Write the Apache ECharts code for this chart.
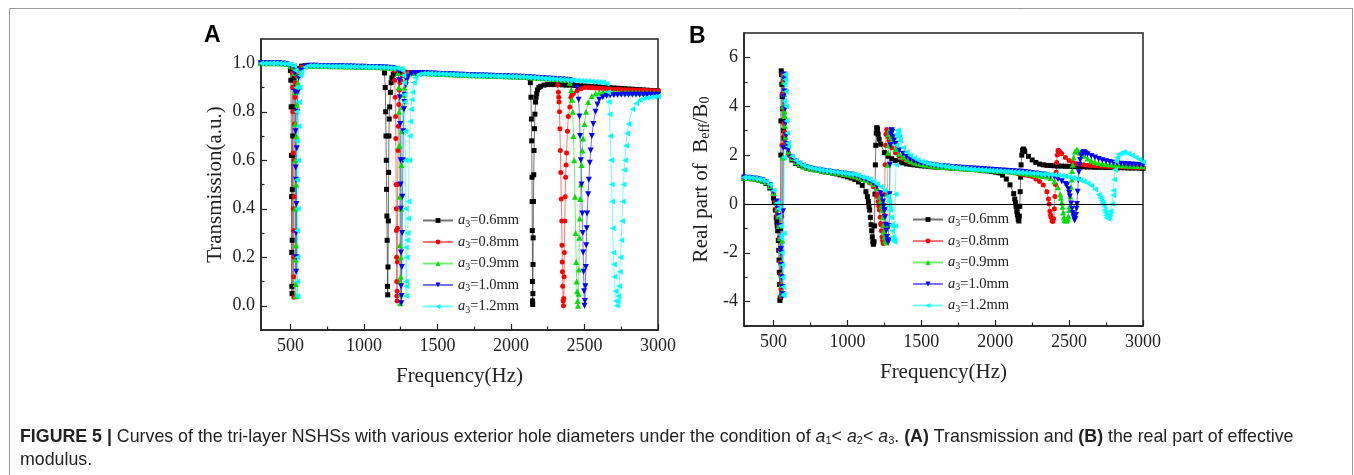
<!DOCTYPE html>
<html>
<head>
<meta charset="utf-8">
<script src="https://cdn.jsdelivr.net/npm/echarts@6/dist/echarts.min.js"></script>
<style>
html,body{margin:0;padding:0;background:#fff;}
#chart{width:1354px;height:475px;}
</style>
</head>
<body>
<div id="chart"></div>
<script>
// ---------- shared frequency grid (Hz) ----------
const freqGrid = [
300,325,350,375, 400,425,450,475, 500,525,550,575, 600,625,650,675, 700,725,750,775,
800,825,850,875, 900,925,950,975, 1000,1025,1050,1075, 1100,1125,1150,1175, 1200,1225,1250,1275,
1300,1325,1350,1375, 1400,1425,1450,1475, 1500,1525,1550,1575, 1600,1625,1650,1675, 1700,1725,1750,1775,
1800,1825,1850,1875, 1900,1925,1950,1975, 2000,2025,2050,2075, 2100,2125,2150,2175, 2200,2225,2250,2275,
2300,2325,2350,2375, 2400,2425,2450,2475, 2500,2525,2550,2575, 2600,2625,2650,2675, 2700,2725,2750,2775,
2800,2825,2850,2875, 2900,2925,2950,2975, 3000];

const seriesNames = ['a3=0.6mm','a3=0.8mm','a3=0.9mm','a3=1.0mm','a3=1.2mm'];
const xTicks = [500,1000,1500,2000,2500,3000];
const xMinorTicks = [750,1250,1750,2250,2750];
const yTicksA = [0,0.2,0.4,0.6,0.8,1.0];
const yMinorA = [0.1,0.3,0.5,0.7,0.9];
const yTicksB = [-4,-2,0,2,4,6];
const yMinorB = [-5,-3,-1,1,3,5];

// ---------- Panel A: transmission ----------
const tBlack = [
1.0,1.0,1.0,1.0, 1.0,1.0,0.999,0.997, 0.97,0.94,0.978,0.988, 0.99,0.99,0.99,0.99, 0.989,0.989,0.989,0.988,
0.988,0.988,0.988,0.987, 0.987,0.987,0.986,0.986, 0.986,0.985,0.985,0.985, 0.984,0.982,0.7,0.82, 0.955,0.962,0.963,0.963,
0.962,0.962,0.961,0.96, 0.96,0.959,0.958,0.958, 0.957,0.956,0.956,0.955, 0.955,0.954,0.953,0.953, 0.952,0.951,0.951,0.95,
0.95,0.949,0.948,0.948, 0.947,0.947,0.946,0.946, 0.945,0.945,0.944,0.944, 0.943,0.94,0.17,0.875, 0.905,0.91,0.912,0.912,
0.912,0.912,0.911,0.91, 0.91,0.909,0.908,0.907, 0.906,0.905,0.904,0.903, 0.902,0.901,0.9,0.899, 0.898,0.897,0.896,0.895,
0.894,0.893,0.892,0.891, 0.89,0.889,0.888,0.887, 0.886];
const tRed = [
1.0,1.0,1.0,1.0, 1.0,1.0,0.999,0.997, 0.985,0.45,0.97,0.985, 0.99,0.99,0.99,0.99, 0.989,0.989,0.989,0.988,
0.988,0.988,0.988,0.987, 0.987,0.987,0.986,0.986, 0.986,0.985,0.985,0.985, 0.984,0.983,0.982,0.981, 0.978,0.02,0.93,0.96,
0.962,0.962,0.961,0.96, 0.96,0.959,0.958,0.958, 0.957,0.956,0.956,0.955, 0.955,0.954,0.953,0.953, 0.952,0.951,0.951,0.95,
0.95,0.949,0.948,0.948, 0.947,0.947,0.946,0.946, 0.945,0.945,0.944,0.944, 0.943,0.942,0.941,0.94, 0.939,0.938,0.937,0.936,
0.935,0.86,0.14,0.58, 0.82,0.875,0.888,0.895, 0.9,0.9,0.899,0.898, 0.897,0.896,0.895,0.894, 0.893,0.893,0.892,0.891,
0.891,0.89,0.89,0.889, 0.889,0.888,0.888,0.887, 0.887];
const tGreen = [
1.0,1.0,1.0,1.0, 1.0,1.0,0.999,0.997, 0.99,0.985,0.92,0.975, 0.988,0.99,0.99,0.99, 0.989,0.989,0.989,0.988,
0.988,0.988,0.988,0.987, 0.987,0.987,0.986,0.986, 0.986,0.985,0.985,0.985, 0.984,0.983,0.982,0.981, 0.98,0.978,0.12,0.9,
0.955,0.961,0.961,0.96, 0.96,0.959,0.958,0.958, 0.957,0.956,0.956,0.955, 0.955,0.954,0.953,0.953, 0.952,0.951,0.951,0.95,
0.95,0.949,0.948,0.948, 0.947,0.947,0.946,0.946, 0.945,0.945,0.944,0.944, 0.943,0.942,0.941,0.94, 0.939,0.938,0.937,0.936,
0.935,0.934,0.933,0.932, 0.92,0.7,0.06,0.5, 0.75,0.84,0.865,0.875, 0.878,0.88,0.88,0.88, 0.88,0.88,0.879,0.879,
0.879,0.879,0.878,0.878, 0.878,0.878,0.877,0.877, 0.877];
const tBlue = [
1.0,1.0,1.0,1.0, 1.0,1.0,0.999,0.997, 0.99,0.985,0.88,0.97, 0.986,0.99,0.99,0.99, 0.989,0.989,0.989,0.988,
0.988,0.988,0.988,0.987, 0.987,0.987,0.986,0.986, 0.986,0.985,0.985,0.985, 0.984,0.983,0.982,0.981, 0.98,0.975,0.5,0.84,
0.945,0.957,0.96,0.96, 0.96,0.959,0.958,0.958, 0.957,0.956,0.956,0.955, 0.955,0.954,0.953,0.953, 0.952,0.951,0.951,0.95,
0.95,0.949,0.948,0.948, 0.947,0.947,0.946,0.946, 0.945,0.945,0.944,0.944, 0.943,0.942,0.941,0.94, 0.939,0.938,0.937,0.936,
0.935,0.934,0.933,0.932, 0.931,0.925,0.9,0.6, 0.0,0.46,0.7,0.8, 0.85,0.86,0.865,0.867, 0.868,0.869,0.87,0.87,
0.87,0.87,0.87,0.87, 0.87,0.87,0.87,0.87, 0.87];
const tCyan = [
1.0,1.0,1.0,1.0, 1.0,1.0,0.999,0.998, 0.995,0.99,0.4,0.965, 0.985,0.99,0.99,0.99, 0.989,0.989,0.989,0.988,
0.988,0.988,0.988,0.987, 0.987,0.987,0.986,0.986, 0.986,0.985,0.985,0.985, 0.984,0.983,0.982,0.981, 0.98,0.98,0.978,0.87,
0.36,0.85,0.94,0.955, 0.958,0.958,0.958,0.957, 0.957,0.956,0.956,0.955, 0.955,0.954,0.953,0.953, 0.952,0.951,0.951,0.95,
0.95,0.949,0.948,0.948, 0.947,0.947,0.946,0.946, 0.945,0.945,0.944,0.944, 0.943,0.942,0.941,0.94, 0.939,0.938,0.937,0.936,
0.935,0.934,0.933,0.932, 0.931,0.93,0.929,0.928, 0.927,0.926,0.925,0.924, 0.923,0.921,0.915,0.7, 0.17,0.02,0.27,0.6,
0.75,0.81,0.835,0.848, 0.855,0.858,0.86,0.862, 0.864];

// finer readings inside the dips [Hz, value]
const tBlackDips = [[503,0.93],[505,0.82],[507,0.62],[508,0.45],[509,0.22],[510,0.08],[511,0.05],[512,0.27],[513,0.48],[514,0.62],[516,0.7],[518,0.82],[521,0.9],
[1140,0.96],[1145,0.9],[1148,0.8],[1150,0.7],[1152,0.6],[1154,0.48],[1156,0.37],[1158,0.27],[1160,0.08],[1162,0.045],[1164,0.16],[1166,0.35],[1168,0.55],[1170,0.7],[1172,0.77],[1175,0.82],[1180,0.88],[1185,0.92],[1190,0.94],
[2132,0.92],[2136,0.86],[2139,0.77],[2141,0.68],[2143,0.53],[2144,0.43],[2145,0.31],[2146,0.1],[2147,0.02],[2148,0.005],[2149,0.05],[2151,0.28],[2153,0.43],[2155,0.54],[2157,0.64],[2160,0.73],[2163,0.79],[2167,0.84],[2171,0.86],[2180,0.89],[2190,0.9]];
const tRedDips = [[512,0.96],[515,0.9],[517,0.8],[519,0.63],[520,0.4],[521,0.31],[522,0.12],[523,0.035],[524,0.2],[525,0.45],[526,0.6],[528,0.75],[531,0.86],[535,0.92],[540,0.95],
[1205,0.97],[1210,0.93],[1213,0.86],[1215,0.78],[1217,0.69],[1219,0.5],[1220,0.4],[1221,0.31],[1222,0.2],[1223,0.1],[1224,0.04],[1225,0.02],[1226,0.06],[1227,0.18],[1228,0.32],[1230,0.5],[1232,0.64],[1234,0.74],[1237,0.83],[1241,0.89],[1245,0.92],[1260,0.95],
[2310,0.93],[2318,0.91],[2323,0.88],[2327,0.84],[2330,0.8],[2333,0.73],[2336,0.64],[2339,0.55],[2342,0.44],[2345,0.35],[2347,0.25],[2349,0.18],[2352,0.08],[2355,0.02],[2357,0.0],[2359,0.03],[2361,0.12],[2363,0.22],[2366,0.35],[2369,0.45],[2372,0.53],[2378,0.63],[2384,0.72],[2390,0.78],[2408,0.86],[2415,0.87]];
const tGreenDips = [[527,0.96],[530,0.88],[532,0.75],[533,0.6],[534,0.4],[535,0.19],[536,0.09],[537,0.04],[538,0.25],[539,0.5],[541,0.7],[544,0.83],[548,0.9],[555,0.95],
[1232,0.96],[1236,0.9],[1239,0.8],[1241,0.66],[1243,0.45],[1245,0.25],[1246,0.1],[1247,0.01],[1249,0.05],[1251,0.2],[1253,0.4],[1255,0.58],[1258,0.72],[1262,0.82],[1267,0.87],[1283,0.93],[1290,0.95],
[2410,0.89],[2415,0.85],[2420,0.8],[2430,0.6],[2435,0.45],[2440,0.3],[2444,0.18],[2447,0.1],[2453,0.02],[2456,0.0],[2459,0.05],[2462,0.15],[2465,0.28],[2468,0.36],[2471,0.44],[2480,0.58],[2485,0.64],[2490,0.69],[2510,0.8]];
const tBlueDips = [[530,0.96],[533,0.88],[535,0.72],[536,0.57],[537,0.52],[538,0.3],[539,0.14],[540,0.2],[541,0.42],[543,0.65],[546,0.8],[550,0.88],[556,0.94],
[1235,0.97],[1240,0.93],[1244,0.86],[1247,0.75],[1249,0.6],[1251,0.4],[1252,0.22],[1253,0.08],[1254,0.01],[1256,0.04],[1258,0.16],[1260,0.3],[1262,0.45],[1265,0.6],[1268,0.72],[1272,0.81],[1278,0.87],[1285,0.91],[1292,0.93],
[2460,0.85],[2466,0.78],[2470,0.7],[2480,0.5],[2485,0.38],[2488,0.3],[2491,0.22],[2494,0.14],[2497,0.06],[2503,0.02],[2506,0.08],[2509,0.16],[2512,0.25],[2515,0.32],[2518,0.38],[2530,0.52],[2536,0.59],[2542,0.64],[2560,0.75],[2588,0.83]];
const tCyanDips = [[535,0.97],[539,0.9],[541,0.8],[543,0.68],[544,0.52],[545,0.31],[546,0.1],[547,0.04],[548,0.2],[550,0.4],[552,0.6],[555,0.74],[558,0.84],[562,0.9],[568,0.95],
[1262,0.97],[1268,0.95],[1272,0.92],[1277,0.84],[1280,0.72],[1282,0.6],[1284,0.4],[1285,0.24],[1286,0.1],[1287,0.04],[1289,0.08],[1291,0.2],[1294,0.27],[1297,0.3],[1303,0.43],[1307,0.6],[1311,0.7],[1315,0.76],[1320,0.81],[1330,0.88],[1340,0.92],
[2660,0.88],[2665,0.84],[2670,0.79],[2680,0.6],[2685,0.5],[2688,0.43],[2692,0.32],[2696,0.22],[2703,0.12],[2710,0.06],[2715,0.02],[2720,0.0],[2730,0.04],[2735,0.08],[2740,0.14],[2745,0.2],[2755,0.35],[2760,0.43],[2765,0.5],[2770,0.56],[2782,0.66],[2790,0.71]];

// ---------- Panel B: real part of Beff/B0 ----------
const bBlack = [
1.05,1.04,1.03,1.01, 0.98,0.93,0.84,0.65, 0.25,-0.9,3.4,2.35, 2.0,1.8,1.66,1.58, 1.52,1.47,1.43,1.4,
1.37,1.34,1.31,1.29, 1.26,1.23,1.19,1.15, 1.11,1.06,1.0,0.9, 0.76,0.5,-0.25,-1.63, 3.1,2.45,2.1,1.95,
1.85,1.78,1.72,1.68, 1.64,1.62,1.6,1.58, 1.56,1.55,1.54,1.52, 1.51,1.5,1.49,1.48, 1.47,1.46,1.45,1.44,
1.43,1.42,1.41,1.4, 1.38,1.36,1.35,1.33, 1.3,1.27,1.18,1.02, 0.78,0.42,-0.45,1.6, 2.15,1.95,1.8,1.7,
1.63,1.6,1.58,1.57, 1.56,1.55,1.55,1.54, 1.54,1.53,1.53,1.52, 1.52,1.51,1.51,1.5, 1.5,1.5,1.49,1.49,
1.49,1.48,1.48,1.48, 1.47,1.47,1.47,1.46, 1.46];
const bRed = [
1.06,1.05,1.04,1.02, 0.99,0.95,0.87,0.7, 0.4,-0.45,-3.5,2.95, 2.1,1.85,1.7,1.6, 1.53,1.48,1.44,1.41,
1.38,1.35,1.33,1.31, 1.29,1.27,1.24,1.21, 1.18,1.14,1.1,1.05, 1.0,0.95,0.86,0.7, 0.4,-0.8,-0.47,2.78,
2.3,2.1,1.95,1.85, 1.77,1.71,1.67,1.63, 1.6,1.58,1.56,1.54, 1.52,1.51,1.5,1.49, 1.48,1.47,1.46,1.45,
1.44,1.43,1.42,1.41, 1.4,1.39,1.38,1.37, 1.36,1.35,1.33,1.32, 1.3,1.28,1.25,1.22, 1.18,1.15,1.12,1.02,
0.92,0.77,0.5,-0.45, -0.2,2.18,2.05,1.9, 1.78,1.7,1.65,1.62, 1.6,1.58,1.57,1.56, 1.55,1.54,1.53,1.53,
1.52,1.52,1.51,1.51, 1.5,1.5,1.5,1.49, 1.49];
const bGreen = [
1.07,1.06,1.05,1.03, 1.0,0.96,0.89,0.73, 0.45,-0.2,-2.4,3.6, 2.15,1.88,1.72,1.62, 1.54,1.49,1.45,1.42,
1.39,1.36,1.34,1.32, 1.3,1.28,1.26,1.23, 1.2,1.17,1.13,1.08, 1.02,0.98,0.92,0.82, 0.65,0.13,-1.2,2.1,
2.6,2.25,2.05,1.93, 1.83,1.76,1.7,1.66, 1.62,1.6,1.58,1.56, 1.54,1.52,1.51,1.5, 1.49,1.48,1.47,1.46,
1.45,1.44,1.43,1.42, 1.41,1.4,1.39,1.38, 1.37,1.36,1.35,1.34, 1.33,1.31,1.3,1.28, 1.26,1.24,1.21,1.18,
1.16,1.14,1.12,1.06, 0.92,0.68,0.06,-0.67, -0.25,1.6,2.2,2.1, 1.97,1.86,1.78,1.72, 1.68,1.65,1.63,1.61,
1.6,1.59,1.58,1.57, 1.56,1.56,1.55,1.55, 1.54];
const bBlue = [
1.08,1.07,1.06,1.04, 1.01,0.97,0.9,0.76, 0.5,-0.03,-1.85,4.6, 2.2,1.9,1.74,1.64, 1.56,1.5,1.46,1.43,
1.4,1.37,1.35,1.33, 1.31,1.29,1.27,1.25, 1.23,1.2,1.16,1.11, 1.05,1.0,0.94,0.85, 0.7,0.45,-0.3,-1.58,
3.0,2.45,2.2,2.05, 1.92,1.83,1.76,1.71, 1.67,1.64,1.61,1.59, 1.57,1.55,1.54,1.53, 1.51,1.5,1.49,1.48,
1.47,1.46,1.45,1.44, 1.43,1.42,1.41,1.4, 1.39,1.38,1.37,1.36, 1.35,1.34,1.33,1.32, 1.31,1.29,1.27,1.25,
1.23,1.2,1.17,1.14, 1.1,1.02,0.93,0.82, 0.45,-0.37,-0.2,1.8, 2.11,2.03,1.96,1.9, 1.84,1.79,1.75,1.72,
1.69,1.67,1.65,1.63, 1.62,1.61,1.6,1.59, 1.58];
const bCyan = [
1.09,1.08,1.07,1.05, 1.02,0.98,0.92,0.79, 0.55,0.05,-1.3,4.9, 2.35,1.95,1.78,1.67, 1.58,1.52,1.48,1.45,
1.42,1.39,1.37,1.35, 1.33,1.31,1.29,1.27, 1.25,1.23,1.2,1.16, 1.1,1.06,1.0,0.92, 0.82,0.7,0.55,0.27,
-0.9,0.4,2.72,2.3, 2.12,1.98,1.88,1.8, 1.74,1.69,1.65,1.62, 1.59,1.57,1.55,1.53, 1.51,1.49,1.48,1.46,
1.45,1.43,1.42,1.41, 1.4,1.39,1.38,1.37, 1.36,1.35,1.34,1.33, 1.32,1.31,1.3,1.29, 1.28,1.27,1.26,1.25,
1.24,1.22,1.21,1.2, 1.19,1.17,1.15,1.13, 1.1,1.07,1.03,0.98, 0.92,0.85,0.74,0.6, 0.38,0.07,-0.45,-0.41,
0.55,1.9,2.08,2.1, 2.05,1.98,1.9,1.82, 1.72];

const bBlackRes = [[505,0.1],[512,-0.25],[518,-0.55],[522,-0.75],[528,-1.1],[532,-1.5],[535,-1.9],[537,-2.3],[539,-2.8],[541,-3.3],[543,-3.95],[545,-3.85],[547,-1.0],[549,2.0],[550,3.4],[552,5.45],[554,5.3],[556,4.9],[558,4.4],[561,3.9],[564,3.4],[567,3.0],[570,2.7],
[1135,0.3],[1142,0.1],[1146,-0.1],[1150,-0.25],[1155,-0.55],[1160,-0.85],[1164,-1.1],[1168,-1.35],[1172,-1.55],[1176,-1.65],[1180,-1.55],[1183,-0.9],[1186,0.4],[1189,1.6],[1192,2.4],[1195,2.9],[1199,3.12],[1203,3.05],[1208,2.85],[1214,2.65],
[2132,0.2],[2137,0.05],[2141,-0.1],[2146,-0.3],[2150,-0.45],[2155,-0.62],[2160,-0.7],[2163,-0.5],[2166,-0.1],[2169,0.5],[2172,1.1],[2175,1.6],[2180,2.0],[2185,2.2],[2190,2.25],[2195,2.2]];
const bRedRes = [[513,0.1],[520,-0.2],[526,-0.5],[532,-0.9],[538,-1.4],[542,-1.9],[545,-2.4],[547,-2.9],[549,-3.3],[551,-3.8],[553,-3.7],[555,-0.5],[557,2.4],[559,4.5],[561,5.3],[563,5.0],[566,4.5],[569,3.9],[572,3.3],[576,2.8],[580,2.5],
[1201,0.3],[1208,0.1],[1212,-0.1],[1216,-0.25],[1221,-0.55],[1226,-0.85],[1230,-1.1],[1234,-1.35],[1238,-1.5],[1242,-1.62],[1246,-1.52],[1249,-0.9],[1252,0.4],[1255,1.6],[1258,2.4],[1261,2.85],[1266,3.05],[1270,2.98],[1276,2.75],[1282,2.6],
[2360,0.2],[2365,0.0],[2370,-0.3],[2378,-0.55],[2385,-0.7],[2390,-0.72],[2395,-0.6],[2400,-0.2],[2404,0.3],[2408,0.8],[2412,1.3],[2416,1.7],[2420,2.0],[2427,2.2],[2435,2.15],[2440,2.1]];
const bGreenRes = [[518,0.1],[525,-0.2],[531,-0.5],[537,-0.9],[543,-1.4],[547,-1.9],[550,-2.4],[552,-2.9],[554,-3.3],[556,-3.7],[558,-3.6],[560,-1.5],[562,1.9],[564,4.0],[566,5.25],[568,5.0],[571,4.5],[574,3.8],[577,3.2],[581,2.75],[585,2.45],
[1219,0.3],[1226,0.1],[1230,-0.1],[1234,-0.25],[1239,-0.55],[1244,-0.85],[1248,-1.1],[1252,-1.35],[1256,-1.5],[1260,-1.58],[1264,-1.5],[1267,-0.9],[1270,0.4],[1273,1.6],[1276,2.4],[1279,2.85],[1284,3.05],[1288,2.98],[1294,2.75],[1300,2.6],
[2440,0.4],[2445,0.25],[2455,-0.12],[2460,-0.35],[2465,-0.55],[2470,-0.65],[2480,-0.68],[2485,-0.67],[2490,-0.6],[2495,-0.5],[2503,-0.1],[2508,0.3],[2512,0.7],[2517,1.0],[2521,1.35],[2530,1.9],[2540,2.15],[2553,2.22],[2562,2.15]];
const bBlueRes = [[522,0.1],[529,-0.2],[535,-0.5],[541,-0.9],[547,-1.4],[551,-2.0],[554,-2.5],[556,-3.0],[558,-3.4],[560,-3.8],[562,-3.7],[564,-0.3],[566,2.3],[568,4.4],[570,5.3],[572,5.1],[575,4.6],[578,3.9],[581,3.3],[585,2.8],[590,2.45],
[1234,0.3],[1241,0.1],[1245,-0.1],[1249,-0.25],[1254,-0.55],[1259,-0.85],[1263,-1.1],[1267,-1.35],[1271,-1.5],[1275,-1.58],[1279,-1.5],[1282,-0.9],[1285,0.4],[1288,1.6],[1291,2.4],[1294,2.85],[1299,3.02],[1303,2.95],[1309,2.75],[1315,2.6],
[2485,0.76],[2495,0.6],[2505,0.3],[2514,0.02],[2520,-0.2],[2526,-0.4],[2531,-0.55],[2536,-0.67],[2541,-0.62],[2546,-0.45],[2553,0.0],[2558,0.5],[2562,0.97],[2566,1.3],[2570,1.6],[2580,1.98],[2590,2.08],[2599,2.12],[2610,2.08]];
const bCyanRes = [[526,0.0],[533,-0.2],[539,-0.5],[545,-0.9],[551,-1.4],[555,-2.0],[558,-2.5],[561,-3.0],[563,-3.4],[566,-3.75],[568,-3.7],[570,-1.2],[572,1.9],[574,4.2],[577,5.3],[579,5.1],[582,4.6],[585,4.0],[588,3.4],[592,2.9],[597,2.5],
[1274,0.3],[1281,0.1],[1285,-0.1],[1289,-0.25],[1294,-0.55],[1299,-0.85],[1303,-1.1],[1307,-1.35],[1311,-1.48],[1315,-1.55],[1319,-1.48],[1322,-0.9],[1325,0.4],[1328,1.6],[1331,2.4],[1334,2.85],[1339,3.02],[1343,2.95],[1349,2.75],[1355,2.6],
[2710,0.25],[2718,0.15],[2730,0.02],[2736,-0.1],[2740,-0.25],[2745,-0.35],[2755,-0.55],[2760,-0.6],[2765,-0.58],[2770,-0.52],[2780,-0.3],[2790,0.0],[2798,0.35],[2805,1.0],[2810,1.4],[2817,1.75],[2835,2.03],[2866,2.12]];

// ---------- build ----------
function merge(vals, extra) {
  const m = new Map();
  freqGrid.forEach((f, i) => m.set(f, vals[i]));
  extra.forEach(p => m.set(p[0], p[1]));
  return Array.from(m.entries()).sort((a, b) => a[0] - b[0]);
}
const colors = ['#000000', '#ff0000', '#00e000', '#0000ff', '#00ffff'];
const symbols = [
  {symbol: 'rect', size: 5, rot: 0},
  {symbol: 'circle', size: 5, rot: 0},
  {symbol: 'triangle', size: 6, rot: 0},
  {symbol: 'triangle', size: 6, rot: 180},
  {symbol: 'triangle', size: 6, rot: 90}
];
const dataA = [merge(tBlack, tBlackDips), merge(tRed, tRedDips), merge(tGreen, tGreenDips), merge(tBlue, tBlueDips), merge(tCyan, tCyanDips)];
const dataB = [merge(bBlack, bBlackRes), merge(bRed, bRedRes), merge(bGreen, bGreenRes), merge(bBlue, bBlueRes), merge(bCyan, bCyanRes)];

const SERIF = 'Liberation Serif';
const AX = '#222';

function mkSeries(data, i, xi, yi) {
  return {
    type: 'line', name: seriesNames[i], xAxisIndex: xi, yAxisIndex: yi, data: data,
    symbol: symbols[i].symbol, symbolSize: symbols[i].size, symbolRotate: symbols[i].rot,
    showAllSymbol: true, animation: false,
    lineStyle: {color: colors[i], width: 1, opacity: 0.55},
    itemStyle: {color: colors[i]},
    emphasis: {disabled: true}
  };
}
const series = [];
dataA.forEach((d, i) => series.push(mkSeries(d, i, 0, 0)));
dataB.forEach((d, i) => series.push(mkSeries(d, i, 2, 2)));
series[5].markLine = {silent: true, symbol: 'none', animation: false, label: {show: false},
  lineStyle: {color: '#000', width: 1, type: 'solid'}, data: [{yAxis: 0}]};

function mainX(grid) {
  return {type: 'value', gridIndex: grid, min: 300, max: 3000,
    name: 'Frequency(Hz)', nameLocation: 'middle', nameGap: 36,
    nameTextStyle: {fontFamily: SERIF, fontSize: 21, color: AX},
    axisLine: {show: true, onZero: false, lineStyle: {color: AX, width: 1.5}},
    axisTick: {show: true, inside: true, length: 6, customValues: xTicks, lineStyle: {color: AX, width: 1.2}},
    axisLabel: {show: true, customValues: xTicks, margin: 7, formatter: v => String(v), fontFamily: SERIF, fontSize: 18, color: AX},
    splitLine: {show: false}};
}
function minorX(grid) {
  return {type: 'value', gridIndex: grid, min: 300, max: 3000, position: 'bottom',
    axisLine: {show: false, onZero: false}, axisLabel: {show: false, customValues: xMinorTicks},
    axisTick: {show: true, inside: true, length: 3.5, customValues: xMinorTicks, lineStyle: {color: AX, width: 1.2}},
    splitLine: {show: false}};
}
function mainY(grid, min, max, ticks, fmt, name, gap, rich) {
  return {type: 'value', gridIndex: grid, min: min, max: max,
    name: name, nameLocation: 'middle', nameGap: gap,
    nameTextStyle: {fontFamily: SERIF, fontSize: 21, color: AX, rich: rich},
    axisLine: {show: true, onZero: false, lineStyle: {color: AX, width: 1.5}},
    axisTick: {show: true, inside: true, length: 6, customValues: ticks, lineStyle: {color: AX, width: 1.2}},
    axisLabel: {show: true, customValues: ticks, margin: 6, formatter: fmt, fontFamily: SERIF, fontSize: 18, color: AX},
    splitLine: {show: false}};
}
function minorY(grid, min, max, ticks) {
  return {type: 'value', gridIndex: grid, min: min, max: max, position: 'left',
    axisLine: {show: false, onZero: false}, axisLabel: {show: false, customValues: ticks},
    axisTick: {show: true, inside: true, length: 3.5, customValues: ticks, lineStyle: {color: AX, width: 1.2}},
    splitLine: {show: false}};
}
const legendRich = {
  i: {fontFamily: SERIF, fontStyle: 'italic', fontSize: 14.5, color: AX},
  s: {fontFamily: SERIF, fontSize: 10, color: AX, verticalAlign: 'bottom', padding: [7, 0, 0, 0]},
  t: {fontFamily: SERIF, fontSize: 14.5, color: AX}
};
function legendFmt(n) { return '{i|a}{s|3}{t|' + n.slice(2) + '}'; }
function mkLegend(left, top) {
  return {orient: 'vertical', left: left, top: top, itemWidth: 30, itemHeight: 6, itemGap: 5.5,
    padding: 0, data: seriesNames, formatter: legendFmt, selectedMode: false,
    textStyle: {fontFamily: SERIF, fontSize: 14.5, color: AX, rich: legendRich}};
}

const chart = echarts.init(document.getElementById('chart'), null, {renderer: 'canvas'});
chart.setOption({
  animation: false,
  backgroundColor: '#fff',
  grid: [
    {left: 261, top: 39, width: 397, height: 291, show: true, borderColor: AX, borderWidth: 1.5, backgroundColor: 'transparent'},
    {left: 744, top: 33, width: 399, height: 293, show: true, borderColor: AX, borderWidth: 1.5, backgroundColor: 'transparent'}
  ],
  xAxis: [mainX(0), minorX(0), mainX(1), minorX(1)],
  yAxis: [
    mainY(0, -0.1, 1.1, yTicksA, v => v.toFixed(1), 'Transmission(a.u.)', 35, {}),
    minorY(0, -0.1, 1.1, yMinorA),
    mainY(1, -5, 7, yTicksB, v => String(v), 'Real part of  B{s|eff}/B{s|0}', 32,
      {s: {fontFamily: SERIF, fontSize: 14, color: AX, verticalAlign: 'bottom', padding: [8, 0, 0, 0]}}),
    minorY(1, -5, 7, yMinorB)
  ],
  legend: [mkLegend(422, 213), mkLegend(912, 212)],
  series: series,
  graphic: [
    {type: 'rect', left: 7, top: 6, silent: true, z: -1,
      shape: {width: 1343, height: 500}, style: {fill: 'none', stroke: '#9a9a9a', lineWidth: 1}},
    {type: 'text', left: 204, top: 24, silent: true,
      style: {text: 'A', font: 'bold 23px "Liberation Sans"', fill: '#000'}},
    {type: 'text', left: 689, top: 25, silent: true,
      style: {text: 'B', font: 'bold 23px "Liberation Sans"', fill: '#000'}},
    {type: 'text', left: 20, top: 428, silent: true,
      style: {
        text: '{b|FIGURE 5 |} Curves of the tri-layer NSHSs with various exterior hole diameters under the condition of {i|a}{sub|1}< {i|a}{sub|2}< {i|a}{sub|3}. {b|(A)} Transmission and {b|(B)} the real part of effective',
        font: '17.8px "Liberation Sans"', fill: '#222',
        rich: {
          b: {font: 'bold 17.8px "Liberation Sans"', fill: '#222'},
          i: {font: 'italic 17.8px "Liberation Sans"', fill: '#222'},
          sub: {font: '11px "Liberation Sans"', fill: '#222', verticalAlign: 'bottom', padding: [7, 0, 0, 0]}
        }
      }},
    {type: 'text', left: 20, top: 451, silent: true,
      style: {text: 'modulus.', font: '17.8px "Liberation Sans"', fill: '#222'}}
  ]
});
</script>
</body>
</html>
